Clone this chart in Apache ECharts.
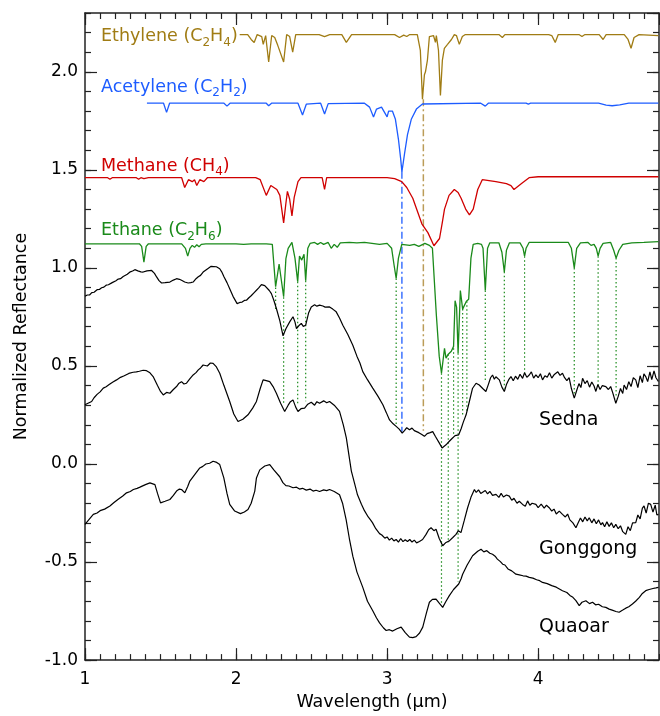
<!DOCTYPE html>
<html>
<head>
<meta charset="utf-8">
<script src="https://cdn.jsdelivr.net/npm/echarts@6/dist/echarts.min.js"></script>
<style>
    html, body {margin: 0; padding: 0; background: #fff;}
    #main {width: 660px; height: 716px;}
</style>
</head>
<body>
<div id="main"></div>
<script>
// 波长范围 / 反射率范围
var wlRange = [1, 4.8];
var refRange = [-1, 2.3];

// 实验室谱线 [波长, 反射率]
var ethylene = [[2.024,2.19],[2.077,2.19],[2.10,2.165],[2.12,2.15],[2.14,2.19],[2.17,2.18],[2.18,2.14],[2.196,2.185],[2.216,2.05],[2.236,2.185],[2.256,2.175],[2.276,2.135],[2.315,2.05],[2.335,2.19],[2.355,2.18],[2.375,2.10],[2.395,2.19],[2.55,2.19],[2.586,2.18],[2.62,2.19],[2.70,2.19],[2.73,2.15],[2.765,2.19],[3.05,2.19],[3.082,2.175],[3.11,2.187],[3.13,2.18],[3.15,2.19],[3.20,2.19],[3.22,2.11],[3.234,1.86],[3.247,1.985],[3.254,2.0],[3.267,2.06],[3.28,2.18],[3.293,2.19],[3.307,2.185],[3.32,2.15],[3.326,2.185],[3.34,2.11],[3.353,1.88],[3.366,2.06],[3.379,2.12],[3.40,2.14],[3.426,2.165],[3.445,2.19],[3.459,2.185],[3.478,2.14],[3.498,2.18],[3.518,2.19],[3.74,2.19],[3.763,2.175],[3.78,2.19],[4.07,2.19],[4.09,2.185],[4.113,2.15],[4.133,2.19],[4.27,2.19],[4.29,2.18],[4.31,2.19],[4.404,2.19],[4.43,2.165],[4.45,2.19],[4.57,2.19],[4.595,2.165],[4.615,2.12],[4.635,2.175],[4.668,2.19],[4.796,2.185]];
var acetylene = [[1.41,1.84],[1.52,1.84],[1.54,1.793],[1.56,1.84],[1.92,1.84],[1.94,1.825],[1.96,1.84],[2.20,1.84],[2.216,1.827],[2.235,1.84],[2.41,1.84],[2.44,1.78],[2.465,1.835],[2.56,1.84],[2.586,1.785],[2.61,1.838],[2.85,1.84],[2.884,1.82],[2.91,1.77],[2.93,1.81],[2.963,1.82],[3.0,1.77],[3.01,1.80],[3.035,1.80],[3.055,1.758],[3.075,1.656],[3.09,1.555],[3.098,1.49],[3.115,1.58],[3.135,1.68],[3.16,1.758],[3.194,1.81],[3.234,1.836],[3.62,1.84],[3.65,1.825],[3.67,1.84],[3.92,1.84],[3.935,1.835],[3.95,1.84],[4.40,1.84],[4.45,1.83],[4.49,1.827],[4.54,1.832],[4.60,1.84],[4.796,1.84]];
var methane = [[1.0,1.46],[1.15,1.46],[1.165,1.452],[1.18,1.46],[1.34,1.46],[1.355,1.452],[1.37,1.46],[1.39,1.455],[1.42,1.46],[1.64,1.46],[1.66,1.41],[1.685,1.45],[1.71,1.44],[1.725,1.45],[1.74,1.42],[1.76,1.45],[1.787,1.44],[1.81,1.46],[2.13,1.46],[2.16,1.45],[2.20,1.37],[2.23,1.42],[2.27,1.40],[2.29,1.37],[2.315,1.23],[2.33,1.33],[2.34,1.39],[2.355,1.35],[2.37,1.265],[2.385,1.36],[2.41,1.44],[2.43,1.46],[2.57,1.46],[2.586,1.40],[2.60,1.46],[3.0,1.46],[3.05,1.455],[3.097,1.44],[3.13,1.41],[3.17,1.355],[3.20,1.29],[3.23,1.225],[3.27,1.18],[3.31,1.113],[3.347,1.15],[3.365,1.23],[3.38,1.30],[3.41,1.37],[3.445,1.40],[3.47,1.385],[3.49,1.355],[3.52,1.30],[3.545,1.27],[3.57,1.30],[3.60,1.40],[3.63,1.45],[3.72,1.44],[3.79,1.43],[3.82,1.42],[3.84,1.40],[3.865,1.415],[3.89,1.43],[3.94,1.46],[4.0,1.465],[4.796,1.465]];
var ethane = [[1.0,1.123],[1.36,1.123],[1.375,1.11],[1.39,1.03],[1.405,1.11],[1.42,1.123],[1.64,1.123],[1.665,1.10],[1.68,1.06],[1.695,1.10],[1.71,1.115],[1.725,1.105],[1.74,1.118],[1.755,1.108],[1.77,1.12],[1.80,1.123],[2.0,1.123],[2.05,1.12],[2.10,1.123],[2.20,1.123],[2.24,1.12],[2.262,0.904],[2.285,1.02],[2.315,0.853],[2.33,1.047],[2.345,1.10],[2.37,1.13],[2.39,1.05],[2.408,0.93],[2.42,1.06],[2.435,1.04],[2.45,1.07],[2.461,0.935],[2.475,1.10],[2.49,1.125],[2.50,1.115],[2.52,1.13],[2.54,1.12],[2.56,1.13],[2.58,1.12],[2.61,1.13],[2.63,1.10],[2.65,1.12],[2.67,1.105],[2.69,1.128],[2.75,1.13],[2.80,1.128],[2.85,1.13],[2.95,1.12],[3.0,1.125],[3.03,1.10],[3.045,1.02],[3.06,0.946],[3.075,1.05],[3.097,1.12],[3.15,1.115],[3.18,1.12],[3.21,1.11],[3.25,1.125],[3.28,1.115],[3.30,1.10],[3.326,0.76],[3.345,0.55],[3.36,0.463],[3.38,0.59],[3.39,0.54],[3.405,0.56],[3.425,0.575],[3.44,0.60],[3.45,0.833],[3.46,0.80],[3.47,0.565],[3.485,0.885],[3.50,0.79],[3.525,0.83],[3.54,0.84],[3.555,1.05],[3.57,1.12],[3.60,1.125],[3.625,1.12],[3.635,1.10],[3.65,0.885],[3.665,1.10],[3.68,1.128],[3.74,1.128],[3.76,1.08],[3.776,0.98],[3.79,1.09],[3.81,1.128],[3.88,1.128],[3.90,1.10],[3.91,1.06],[3.92,1.10],[3.94,1.13],[4.20,1.13],[4.22,1.10],[4.239,1.0],[4.255,1.10],[4.28,1.128],[4.33,1.13],[4.35,1.115],[4.37,1.12],[4.385,1.10],[4.397,1.06],[4.41,1.10],[4.43,1.125],[4.48,1.13],[4.50,1.09],[4.516,1.05],[4.535,1.09],[4.56,1.12],[4.62,1.128],[4.70,1.13],[4.796,1.134]];

// 天体光谱 [波长, 归一化反射率]
var sedna = [[1.00,0.855],[1.015,0.862],[1.03,0.862],[1.045,0.874],[1.06,0.876],[1.08,0.889],[1.095,0.890],[1.11,0.899],[1.125,0.902],[1.14,0.912],[1.155,0.914],[1.165,0.922],[1.18,0.925],[1.19,0.933],[1.205,0.935],[1.22,0.943],[1.235,0.945],[1.253,0.956],[1.265,0.958],[1.28,0.968],[1.29,0.970],[1.30,0.980],[1.315,0.984],[1.33,0.991],[1.35,0.985],[1.37,0.980],[1.385,0.979],[1.41,0.985],[1.441,0.987],[1.46,0.972],[1.474,0.954],[1.49,0.935],[1.507,0.923],[1.53,0.925],[1.562,0.928],[1.585,0.938],[1.606,0.945],[1.625,0.942],[1.639,0.937],[1.66,0.928],[1.683,0.923],[1.70,0.925],[1.716,0.928],[1.735,0.945],[1.75,0.955],[1.765,0.962],[1.782,0.979],[1.795,0.984],[1.81,0.995],[1.822,0.998],[1.835,1.008],[1.848,1.016],[1.87,1.006],[1.892,0.996],[1.905,0.980],[1.92,0.955],[1.94,0.925],[1.958,0.894],[1.98,0.855],[2.007,0.818],[2.025,0.824],[2.04,0.826],[2.055,0.834],[2.069,0.835],[2.085,0.848],[2.10,0.858],[2.12,0.874],[2.135,0.886],[2.15,0.898],[2.168,0.915],[2.19,0.910],[2.201,0.903],[2.22,0.885],[2.234,0.869],[2.25,0.835],[2.267,0.793],[2.29,0.730],[2.311,0.654],[2.33,0.690],[2.355,0.725],[2.377,0.751],[2.39,0.725],[2.40,0.691],[2.415,0.705],[2.432,0.717],[2.445,0.702],[2.461,0.708],[2.48,0.770],[2.498,0.801],[2.51,0.806],[2.52,0.812],[2.535,0.805],[2.553,0.810],[2.565,0.802],[2.575,0.806],[2.59,0.800],[2.60,0.806],[2.619,0.801],[2.64,0.790],[2.663,0.776],[2.685,0.745],[2.707,0.708],[2.74,0.660],[2.773,0.606],[2.80,0.550],[2.82,0.515],[2.839,0.471],[2.87,0.430],[2.905,0.387],[2.94,0.345],[2.972,0.302],[2.995,0.262],[3.016,0.225],[3.04,0.205],[3.060,0.192],[3.08,0.178],[3.10,0.158],[3.115,0.170],[3.13,0.185],[3.148,0.175],[3.165,0.183],[3.18,0.170],[3.192,0.175],[3.21,0.160],[3.23,0.150],[3.247,0.141],[3.265,0.155],[3.285,0.160],[3.302,0.165],[3.32,0.140],[3.345,0.108],[3.364,0.082],[3.39,0.098],[3.412,0.116],[3.43,0.130],[3.45,0.145],[3.474,0.149],[3.49,0.180],[3.505,0.215],[3.523,0.251],[3.545,0.320],[3.565,0.385],[3.589,0.412],[3.61,0.403],[3.633,0.385],[3.654,0.370],[3.67,0.405],[3.685,0.440],[3.698,0.454],[3.71,0.432],[3.72,0.445],[3.743,0.429],[3.76,0.392],[3.776,0.370],[3.79,0.405],[3.805,0.430],[3.82,0.446],[3.835,0.425],[3.85,0.448],[3.865,0.432],[3.88,0.458],[3.897,0.437],[3.91,0.465],[3.925,0.442],[3.941,0.454],[3.955,0.470],[3.97,0.438],[3.985,0.455],[4.00,0.440],[4.015,0.460],[4.029,0.429],[4.045,0.450],[4.06,0.442],[4.075,0.465],[4.09,0.438],[4.105,0.455],[4.118,0.446],[4.13,0.470],[4.145,0.452],[4.161,0.463],[4.175,0.440],[4.19,0.425],[4.205,0.440],[4.22,0.385],[4.239,0.336],[4.255,0.375],[4.27,0.410],[4.283,0.390],[4.294,0.437],[4.31,0.410],[4.325,0.425],[4.34,0.392],[4.355,0.418],[4.37,0.398],[4.382,0.370],[4.395,0.405],[4.41,0.380],[4.425,0.400],[4.448,0.395],[4.465,0.380],[4.48,0.395],[4.495,0.360],[4.514,0.310],[4.53,0.345],[4.545,0.385],[4.56,0.360],[4.569,0.403],[4.585,0.380],[4.60,0.420],[4.615,0.395],[4.63,0.440],[4.646,0.429],[4.66,0.390],[4.675,0.450],[4.69,0.415],[4.70,0.460],[4.712,0.446],[4.725,0.420],[4.74,0.470],[4.752,0.430],[4.767,0.475],[4.78,0.440],[4.796,0.421]];
var gonggong = [[1.00,0.302],[1.02,0.310],[1.044,0.319],[1.06,0.338],[1.08,0.355],[1.10,0.368],[1.121,0.387],[1.14,0.394],[1.16,0.405],[1.185,0.418],[1.209,0.429],[1.235,0.442],[1.26,0.450],[1.29,0.462],[1.319,0.468],[1.34,0.470],[1.36,0.473],[1.385,0.478],[1.407,0.476],[1.43,0.465],[1.451,0.446],[1.48,0.400],[1.50,0.370],[1.518,0.352],[1.54,0.365],[1.562,0.361],[1.585,0.380],[1.606,0.395],[1.62,0.410],[1.639,0.420],[1.655,0.408],[1.672,0.412],[1.695,0.435],[1.716,0.454],[1.735,0.466],[1.75,0.480],[1.765,0.490],[1.782,0.505],[1.81,0.500],[1.83,0.515],[1.848,0.513],[1.87,0.495],[1.892,0.463],[1.92,0.400],[1.958,0.319],[1.985,0.255],[2.013,0.217],[2.045,0.228],[2.079,0.251],[2.11,0.285],[2.135,0.319],[2.16,0.385],[2.179,0.429],[2.20,0.425],[2.223,0.420],[2.245,0.395],[2.267,0.361],[2.295,0.310],[2.322,0.268],[2.345,0.300],[2.36,0.318],[2.377,0.327],[2.395,0.290],[2.41,0.268],[2.43,0.282],[2.454,0.285],[2.475,0.305],[2.498,0.315],[2.52,0.300],[2.535,0.318],[2.553,0.310],[2.58,0.322],[2.60,0.312],[2.619,0.319],[2.65,0.300],[2.685,0.268],[2.71,0.200],[2.73,0.133],[2.763,-0.035],[2.785,-0.100],[2.804,-0.157],[2.83,-0.205],[2.85,-0.238],[2.875,-0.270],[2.89,-0.285],[2.903,-0.299],[2.925,-0.330],[2.95,-0.355],[2.965,-0.362],[2.985,-0.378],[3.0,-0.372],[3.015,-0.388],[3.03,-0.378],[3.045,-0.392],[3.06,-0.385],[3.075,-0.398],[3.09,-0.380],[3.105,-0.396],[3.12,-0.386],[3.135,-0.395],[3.15,-0.385],[3.165,-0.398],[3.18,-0.388],[3.195,-0.402],[3.214,-0.395],[3.235,-0.385],[3.258,-0.359],[3.275,-0.335],[3.291,-0.325],[3.31,-0.340],[3.324,-0.333],[3.345,-0.380],[3.368,-0.417],[3.39,-0.400],[3.412,-0.392],[3.435,-0.375],[3.456,-0.359],[3.472,-0.340],[3.489,-0.350],[3.51,-0.290],[3.533,-0.223],[3.555,-0.170],[3.578,-0.130],[3.59,-0.145],[3.605,-0.132],[3.62,-0.150],[3.633,-0.147],[3.65,-0.135],[3.665,-0.152],[3.68,-0.140],[3.698,-0.160],[3.721,-0.155],[3.74,-0.170],[3.755,-0.150],[3.77,-0.168],[3.79,-0.158],[3.809,-0.164],[3.825,-0.185],[3.84,-0.175],[3.86,-0.200],[3.875,-0.190],[3.897,-0.206],[3.915,-0.215],[3.93,-0.188],[3.945,-0.210],[3.96,-0.200],[3.985,-0.206],[4.00,-0.222],[4.02,-0.205],[4.04,-0.225],[4.055,-0.210],[4.073,-0.223],[4.09,-0.240],[4.105,-0.230],[4.12,-0.255],[4.14,-0.240],[4.161,-0.257],[4.18,-0.270],[4.195,-0.255],[4.21,-0.285],[4.23,-0.300],[4.250,-0.325],[4.265,-0.300],[4.28,-0.275],[4.295,-0.295],[4.31,-0.270],[4.325,-0.290],[4.338,-0.274],[4.355,-0.300],[4.37,-0.280],[4.385,-0.305],[4.40,-0.285],[4.415,-0.310],[4.426,-0.299],[4.44,-0.320],[4.455,-0.295],[4.47,-0.318],[4.485,-0.300],[4.50,-0.325],[4.514,-0.308],[4.53,-0.330],[4.545,-0.315],[4.56,-0.345],[4.58,-0.359],[4.595,-0.320],[4.61,-0.340],[4.625,-0.300],[4.646,-0.299],[4.66,-0.260],[4.675,-0.280],[4.69,-0.225],[4.701,-0.214],[4.715,-0.250],[4.73,-0.200],[4.745,-0.206],[4.76,-0.245],[4.775,-0.210],[4.786,-0.260],[4.796,-0.257]];
var quaoar = [[1.00,-0.308],[1.03,-0.280],[1.055,-0.257],[1.08,-0.250],[1.10,-0.238],[1.13,-0.230],[1.165,-0.214],[1.19,-0.198],[1.22,-0.180],[1.25,-0.163],[1.275,-0.147],[1.30,-0.140],[1.32,-0.130],[1.345,-0.124],[1.364,-0.118],[1.40,-0.105],[1.430,-0.096],[1.463,-0.105],[1.48,-0.150],[1.50,-0.198],[1.53,-0.190],[1.562,-0.181],[1.585,-0.160],[1.606,-0.138],[1.625,-0.128],[1.639,-0.130],[1.661,-0.147],[1.68,-0.115],[1.694,-0.087],[1.73,-0.050],[1.760,-0.020],[1.78,-0.012],[1.80,0.000],[1.825,0.004],[1.848,0.014],[1.872,0.008],[1.892,-0.003],[1.919,-0.071],[1.94,-0.150],[1.958,-0.206],[1.991,-0.240],[2.029,-0.253],[2.055,-0.245],[2.079,-0.232],[2.10,-0.200],[2.124,-0.138],[2.135,-0.071],[2.157,-0.030],[2.19,-0.010],[2.223,-0.003],[2.25,-0.030],[2.289,-0.065],[2.31,-0.095],[2.33,-0.110],[2.35,-0.112],[2.377,-0.121],[2.40,-0.118],[2.42,-0.128],[2.44,-0.124],[2.465,-0.133],[2.49,-0.128],[2.51,-0.138],[2.53,-0.134],[2.553,-0.140],[2.58,-0.132],[2.60,-0.136],[2.619,-0.130],[2.65,-0.140],[2.685,-0.157],[2.705,-0.200],[2.729,-0.285],[2.75,-0.380],[2.773,-0.470],[2.80,-0.550],[2.839,-0.629],[2.87,-0.700],[2.905,-0.748],[2.93,-0.785],[2.95,-0.810],[2.975,-0.835],[2.994,-0.849],[3.015,-0.845],[3.037,-0.852],[3.065,-0.840],[3.093,-0.832],[3.12,-0.860],[3.148,-0.883],[3.17,-0.885],[3.192,-0.880],[3.215,-0.862],[3.236,-0.832],[3.26,-0.760],[3.280,-0.705],[3.30,-0.690],[3.324,-0.689],[3.345,-0.710],[3.368,-0.731],[3.39,-0.700],[3.412,-0.671],[3.44,-0.640],[3.474,-0.612],[3.49,-0.585],[3.500,-0.562],[3.53,-0.515],[3.566,-0.468],[3.60,-0.445],[3.622,-0.435],[3.64,-0.448],[3.66,-0.442],[3.68,-0.455],[3.698,-0.460],[3.715,-0.470],[3.73,-0.485],[3.75,-0.498],[3.765,-0.511],[3.78,-0.515],[3.80,-0.535],[3.825,-0.545],[3.853,-0.562],[3.875,-0.565],[3.90,-0.570],[3.92,-0.572],[3.941,-0.578],[3.965,-0.582],[3.99,-0.590],[4.01,-0.595],[4.029,-0.604],[4.06,-0.610],[4.09,-0.620],[4.12,-0.628],[4.161,-0.646],[4.19,-0.655],[4.21,-0.670],[4.23,-0.680],[4.250,-0.697],[4.272,-0.722],[4.29,-0.705],[4.316,-0.697],[4.34,-0.712],[4.36,-0.705],[4.38,-0.718],[4.40,-0.715],[4.425,-0.728],[4.448,-0.731],[4.47,-0.740],[4.49,-0.745],[4.515,-0.752],[4.536,-0.756],[4.56,-0.745],[4.58,-0.735],[4.60,-0.728],[4.624,-0.714],[4.645,-0.700],[4.67,-0.680],[4.69,-0.660],[4.712,-0.646],[4.735,-0.640],[4.76,-0.635],[4.78,-0.632],[4.796,-0.629]];

// 乙烷吸收特征竖线 [波长, 上端, 下端]
var ethaneMarks = [[2.262,0.90,0.79],[2.315,0.85,0.31],[2.408,0.93,0.30],[2.461,0.935,0.32],[3.06,0.946,0.20],[3.36,0.463,-0.72],[3.405,0.56,-0.40],[3.44,0.59,0.15],[3.47,0.565,-0.60],[3.50,0.79,0.24],[3.528,0.83,0.27],[3.65,0.885,0.42],[3.776,0.98,0.385],[3.91,1.06,0.45],[4.239,1.0,0.35],[4.397,1.06,0.40],[4.516,1.05,0.335]];
// 乙炔 / 乙烯特征线
var acetyleneMark = [3.098, 1.49, 0.165];
var ethyleneMark = [3.24, 1.86, 0.17];

var FONT = '"DejaVu Sans", sans-serif';
var GOLD = '#a07c14', BLUE = '#1d5cff', RED = '#d00000', GREEN = '#1a8a1a';

function axis(dim, pos, interval, major, showLabel) {
    var isX = dim === 'x';
    var a = {
        type: 'value',
        position: pos,
        min: isX ? wlRange[0] : refRange[0],
        max: isX ? wlRange[1] : refRange[1],
        interval: interval,
        axisLine: {show: major, onZero: false, lineStyle: {color: '#222', width: 1.5}},
        axisTick: {show: true, inside: true, length: major ? 12 : 6, lineStyle: {color: '#222', width: 1.2}},
        axisLabel: {show: false},
        splitLine: {show: false}
    };
    if (showLabel) {
        a.axisLabel = {
            show: true, color: '#000', fontSize: 17, fontFamily: FONT,
            margin: isX ? 11 : 7, showMaxLabel: false,
            formatter: function (v) { return isX ? String(v) : v.toFixed(1); }
        };
    }
    return a;
}

var xAxes = [axis('x', 'bottom', 1, true, true), axis('x', 'bottom', 0.1, false), axis('x', 'top', 1, true), axis('x', 'top', 0.1, false)];
xAxes[0].name = 'Wavelength (\u03bcm)';
xAxes[0].nameLocation = 'middle';
xAxes[0].nameGap = 26;
xAxes[0].nameTextStyle = {color: '#000', fontSize: 17.5, fontFamily: FONT};

var yAxes = [axis('y', 'left', 0.5, true, true), axis('y', 'left', 0.1, false), axis('y', 'right', 0.5, true), axis('y', 'right', 0.1, false)];
yAxes[0].name = 'Normalized Reflectance';
yAxes[0].nameLocation = 'middle';
yAxes[0].nameGap = 55;
yAxes[0].nameTextStyle = {color: '#000', fontSize: 17.5, fontFamily: FONT};

function line(data, color, width, type, z) {
    return {
        type: 'line', data: data, showSymbol: false, silent: true,
        animation: false, z: z || 2,
        lineStyle: {color: color, width: width, type: type || 'solid'}
    };
}

var series = [];
ethaneMarks.forEach(function (m) {
    series.push(line([[m[0], m[1]], [m[0], m[2]]], GREEN, 1.2, [1.5, 2.5], 1));
});
series.push(line([[acetyleneMark[0], acetyleneMark[1]], [acetyleneMark[0], acetyleneMark[2]]], BLUE, 1.3, [7, 3, 2, 3], 1));
series.push(line([[ethyleneMark[0], ethyleneMark[1]], [ethyleneMark[0], ethyleneMark[2]]], '#bb9c58', 1.5, [7, 3, 2, 3], 1));
series.push(line(ethylene, GOLD, 1.3));
series.push(line(acetylene, BLUE, 1.3));
series.push(line(methane, RED, 1.3));
series.push(line(ethane, GREEN, 1.3));
series.push(line(sedna, '#000', 1.2, null, 3));
series.push(line(gonggong, '#000', 1.2, null, 3));
series.push(line(quaoar, '#000', 1.2, null, 3));

// 标签
function label(x, y, text, color, size) {
    return {
        type: 'text', x: x, y: y, silent: true,
        style: {
            text: text, verticalAlign: 'middle', align: 'left',
            rich: {
                m: {fontSize: size, lineHeight: 24, fontFamily: FONT, fill: color},
                s: {fontSize: 12, lineHeight: 12, fontFamily: FONT, fill: color, verticalAlign: 'bottom'}
            }
        }
    };
}

var chart = echarts.init(document.getElementById('main'));
chart.setOption({
    animation: false,
    backgroundColor: '#fff',
    grid: {left: 85, right: 1, top: 13, bottom: 53},
    xAxis: xAxes,
    yAxis: yAxes,
    series: series,
    graphic: [
        label(101, 36.5, '{m|Ethylene (C}{s|2}{m|H}{s|4}{m|)}', GOLD, 17.5),
        label(101, 87.3, '{m|Acetylene (C}{s|2}{m|H}{s|2}{m|)}', BLUE, 17.5),
        label(101, 166, '{m|Methane (CH}{s|4}{m|)}', RED, 17.5),
        label(101, 230.5, '{m|Ethane (C}{s|2}{m|H}{s|6}{m|)}', GREEN, 17.5),
        label(539, 420.5, '{m|Sedna}', '#000', 19),
        label(539, 549.5, '{m|Gonggong}', '#000', 19),
        label(539, 627.5, '{m|Quaoar}', '#000', 19)
    ]
});
</script>
</body>
</html>
